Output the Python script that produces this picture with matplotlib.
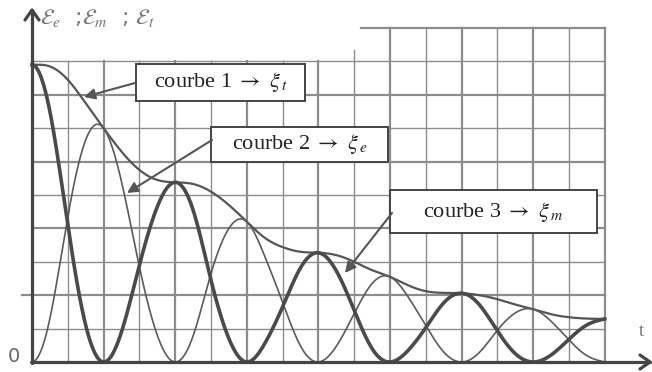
import numpy as np
import matplotlib
matplotlib.use("Agg")
import matplotlib.pyplot as plt

plt.rcParams["mathtext.fontset"] = "stix"

# ---- data (grid units) ----
t = [0, 0.5, 1, 1.5, 2, 2.5, 3, 3.5, 4, 4.5, 5, 5.5, 6, 6.5, 7, 7.5, 8,
     8.5, 9, 9.5, 10, 10.5, 11, 11.5, 12, 12.5, 13, 13.5, 14, 14.5, 15, 15.5, 16]
E_total = [8.9, 8.85, 8.45, 7.75, 7.0, 6.3, 5.75, 5.45, 5.38, 5.33, 5.1, 4.7, 4.2,
           3.72, 3.44, 3.3, 3.27, 3.2, 3.0, 2.75, 2.55, 2.3, 2.12, 2.07, 2.06, 2.0,
           1.88, 1.72, 1.58, 1.43, 1.34, 1.30, 1.29]
E_m = [8.9, 7.5, 4.1, 1.1, 0, 0.9, 2.9, 4.65, 5.38, 4.55, 2.45, 0.7, 0, 0.55,
       1.65, 2.82, 3.27, 2.73, 1.55, 0.4, 0, 0.34, 1.03, 1.77, 2.06, 1.71, 0.93,
       0.25, 0, 0.21, 0.68, 1.11, 1.29]
E_e = [0, 1.3, 4.35, 6.65, 7.0, 5.4, 2.85, 0.8, 0, 0.78, 2.65, 4.0, 4.2, 3.17,
       1.79, 0.48, 0, 0.47, 1.45, 2.35, 2.55, 1.96, 1.09, 0.3, 0, 0.29, 0.95,
       1.47, 1.58, 1.22, 0.66, 0.19, 0]
labels = [r"courbe 1 $\rightarrow$ $\xi_{\,t}$",
          r"courbe 2 $\rightarrow$ $\xi_{\,e}$",
          r"courbe 3 $\rightarrow$ $\xi_{\,m}$"]
y_title = r"$\mathcal{E}_{e}$  ;$\mathcal{E}_{m}$  ; $\mathcal{E}_{t}$"


def spline(x, y, xn, d0=None):
    """Cubic spline through the read points (natural, or clamped start slope)."""
    x = np.asarray(x, float); y = np.asarray(y, float)
    n = len(x); h = np.diff(x)
    A = np.zeros((n, n)); r = np.zeros(n)
    if d0 is None:
        A[0, 0] = 1
    else:
        A[0, 0] = 2 * h[0]; A[0, 1] = h[0]
        r[0] = 6 * ((y[1] - y[0]) / h[0] - d0)
    A[-1, -1] = 1
    for i in range(1, n - 1):
        A[i, i - 1] = h[i - 1]; A[i, i] = 2 * (h[i - 1] + h[i]); A[i, i + 1] = h[i]
        r[i] = 6 * ((y[i + 1] - y[i]) / h[i] - (y[i] - y[i - 1]) / h[i - 1])
    M = np.linalg.solve(A, r)
    idx = np.clip(np.searchsorted(x, xn) - 1, 0, n - 2)
    hi = h[idx]; a = x[idx + 1] - xn; b = xn - x[idx]
    return (M[idx] * a**3 + M[idx + 1] * b**3) / (6 * hi) + \
        (y[idx] / hi - M[idx] * hi / 6) * a + (y[idx + 1] / hi - M[idx + 1] * hi / 6) * b


W, H = 652, 372
fig = plt.figure(figsize=(W / 100, H / 100), dpi=100)
ax = fig.add_axes([0, 0, 1, 1])
sx, x0 = 35.8, 32
sy, y0 = 33.4, 362
ax.set_xlim(-x0 / sx, (W - x0) / sx)
ax.set_ylim(-(H - y0) / sy, y0 / sy)
ax.axis("off")

def px(xp, yp):
    return ((xp - x0) / sx, (y0 - yp) / sy)

def pline(pts, **kw):
    xs, ys = zip(*[px(a, b) for a, b in pts])
    ax.plot(xs, ys, **kw)

gc = "#8c8c8c"
# grid
for i in range(1, 17):
    top = 10 if i >= 10 else (9.35 if i == 9 else 9)
    ax.plot([i, i], [0, top], color=gc, lw=1.6 if i % 2 == 0 else 1.0, zorder=1)
for j in range(1, 10):
    left = -0.28 if j == 2 else 0
    ax.plot([left, 16], [j, j], color=gc, lw=1.6 if j % 2 == 0 else 1.0, zorder=1)
ax.plot([9.2, 16], [10, 10], color=gc, lw=1.6, zorder=1)

# curves
tn = np.linspace(0, 16, 1600)
ax.plot(tn, spline(t, E_total, tn, d0=0), color="#555555", lw=1.6, zorder=3)
ax.plot(tn, np.clip(spline(t, E_e, tn, d0=0), 0, None), color="#5a5a5a", lw=1.2, zorder=3)
ax.plot(tn, np.clip(spline(t, E_m, tn, d0=0), 0, None), color="#4a4a4a", lw=2.6, zorder=4)

# axes with chevron arrow heads
ak = dict(color="#444444", lw=2.3, zorder=5, solid_capstyle="round", solid_joinstyle="round")
pline([(31, 362), (650, 362)], **ak)
pline([(640, 355), (650, 362), (640, 369)], **ak)
pline([(32, 363), (32, 10)], **ak)
pline([(25, 20), (32, 10), (39, 20)], **ak)

ax.text(*px(14, 356), "0", fontsize=14, color="#666666", ha="center", va="center")
ax.text(*px(641, 331), "t", fontsize=13, color="#777777", ha="center", va="center",
        family=["Liberation Serif", "DejaVu Serif"])
ax.text(*px(40, 18), y_title, fontsize=16, color="#777777", ha="left", va="center")

boxes = [((136, 64, 305, 101), (135, 83), (84, 97)),
         ((211, 127, 388, 162), (212, 140), (127, 193)),
         ((390, 190, 597, 233), (392, 213), (345, 273))]
for lab, (b, start, head) in zip(labels, boxes):
    bx0, by0 = px(b[0], b[3]); bx1, by1 = px(b[2], b[1])
    ax.add_patch(plt.Rectangle((bx0, by0), bx1 - bx0, by1 - by0, facecolor="white",
                               edgecolor="#444444", lw=1.4, zorder=6))
    cx, cy = px((b[0] + b[2]) / 2, (b[1] + b[3]) / 2)
    ax.text(cx, cy, lab, fontsize=16, family=["Liberation Serif", "DejaVu Serif"],
            color="#222222", ha="center", va="center", zorder=7)
    ax.annotate("", xy=px(*head), xytext=px(*start),
                arrowprops=dict(arrowstyle="-|>", color="#555555", lw=1.5, mutation_scale=16,
                                shrinkA=0, shrinkB=0), zorder=6)

fig.savefig("out.png", dpi=100, facecolor="white")
